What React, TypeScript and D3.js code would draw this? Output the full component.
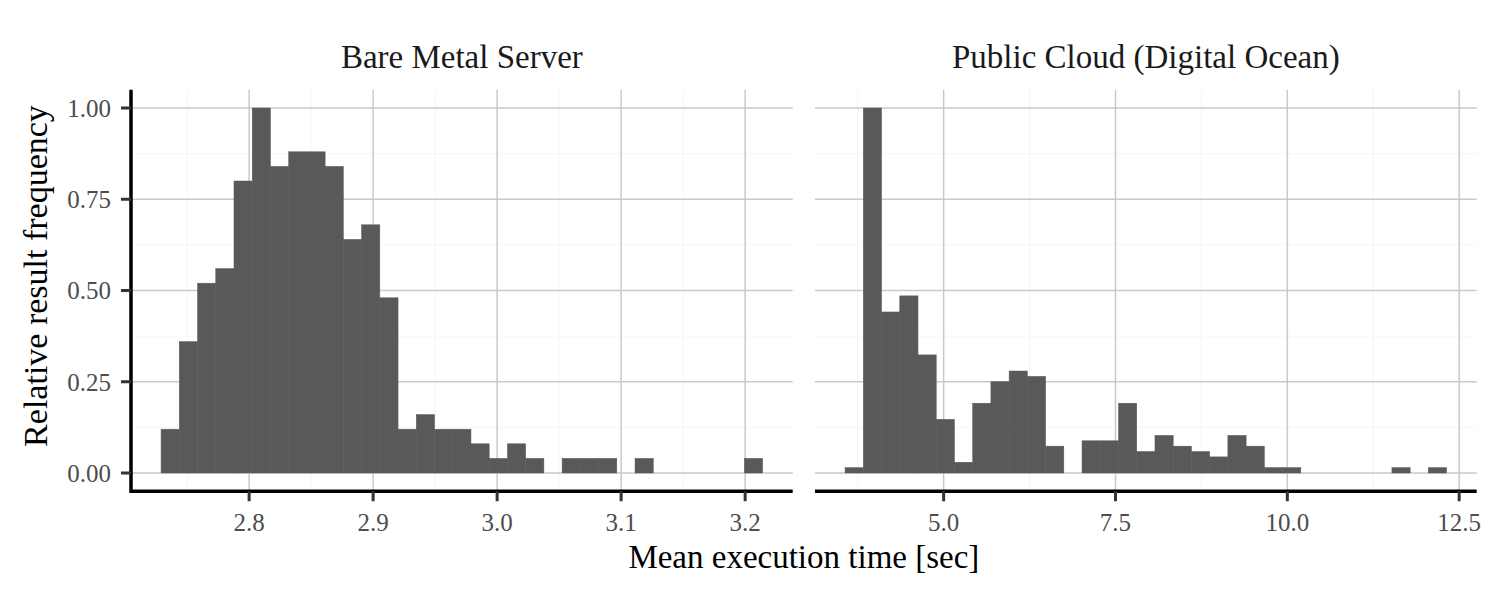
import React from "react";
import * as d3 from "d3";

// ---- Data (histogram bin counts) ----
const panelTitles = ["Bare Metal Server", "Public Cloud (Digital Ocean)"];

const bareMetalBinStart = 2.729;
const bareMetalBinWidth = 0.0147;
const bareMetalCounts = [3, 9, 13, 14, 20, 25, 21, 22, 22, 21, 16, 17, 12, 3, 4, 3, 3, 2, 1, 2, 1, 0, 1, 1, 1, 0, 1, 0, 0, 0, 0, 0, 1];

const cloudBinStart = 3.566;
const cloudBinWidth = 0.2652;
const cloudCounts = [1, 68, 30, 33, 22, 10, 2, 13, 17, 19, 18, 5, 0, 6, 6, 13, 4, 7, 5, 4, 3, 7, 5, 1, 1, 0, 0, 0, 0, 0, 1, 0, 1];

const bareMetalTicks = [2.8, 2.9, 3.0, 3.1, 3.2];
const bareMetalMinor = [2.75, 2.85, 2.95, 3.05, 3.15];
const cloudTicks = [5.0, 7.5, 10.0, 12.5];
const cloudMinor = [3.75, 6.25, 8.75, 11.25];
const yTicks = [0, 0.25, 0.5, 0.75, 1.0];
const yMinor = [0.125, 0.375, 0.625, 0.875];

const xTitle = "Mean execution time [sec]";
const yTitle = "Relative result frequency";

// ---- Layout ----
const W = 1500;
const H = 600;
const panelTop = 89.75;
const panelBottom = 491.25;
const panels = [
  { x0: 131, x1: 792.7 },
  { x0: 815, x1: 1476.7 },
];
const FONT = "'Liberation Serif', 'Times New Roman', serif";

type Bin = { x0: number; x1: number; v: number };

function makeBins(start: number, width: number, counts: number[]): Bin[] {
  const max = d3.max(counts) || 1;
  return counts.map((c, i) => ({ x0: start + i * width, x1: start + (i + 1) * width, v: c / max }));
}

const panelData = [
  { bins: makeBins(bareMetalBinStart, bareMetalBinWidth, bareMetalCounts), ticks: bareMetalTicks, minor: bareMetalMinor, fmt: d3.format(".1f") },
  { bins: makeBins(cloudBinStart, cloudBinWidth, cloudCounts), ticks: cloudTicks, minor: cloudMinor, fmt: d3.format(".1f") },
];

export default function App() {
  const y = d3.scaleLinear().domain([-0.05, 1.05]).range([panelBottom, panelTop]);
  const yFmt = d3.format(".2f");

  return (
    <svg width={W} height={H} style={{ display: "block", position: "absolute", left: 0, top: 0 }} fontFamily={FONT}>
      <rect x={0} y={0} width={W} height={H} fill="#ffffff" />
      {panelData.map((pd, pi) => {
        const p = panels[pi];
        const lo = pd.bins[0].x0;
        const hi = pd.bins[pd.bins.length - 1].x1;
        const pad = (hi - lo) * 0.05;
        const x = d3.scaleLinear().domain([lo - pad, hi + pad]).range([p.x0, p.x1]);
        return (
          <g key={pi}>
            {/* minor grid */}
            {pd.minor.map((t) => (
              <line key={"mx" + t} x1={x(t)} x2={x(t)} y1={panelTop} y2={panelBottom} stroke="#f3f3f3" strokeWidth={0.8} />
            ))}
            {yMinor.map((t) => (
              <line key={"my" + t} x1={p.x0} x2={p.x1} y1={y(t)} y2={y(t)} stroke="#f3f3f3" strokeWidth={0.8} />
            ))}
            {/* major grid */}
            {pd.ticks.map((t) => (
              <line key={"gx" + t} x1={x(t)} x2={x(t)} y1={panelTop} y2={panelBottom} stroke="#c9c9c9" strokeWidth={1.5} />
            ))}
            {yTicks.map((t) => (
              <line key={"gy" + t} x1={p.x0} x2={p.x1} y1={y(t)} y2={y(t)} stroke="#c9c9c9" strokeWidth={1.5} />
            ))}
            {/* bars */}
            {pd.bins.map((b, i) =>
              b.v > 0 ? (
                <rect key={i} x={x(b.x0)} width={x(b.x1) - x(b.x0)} y={y(b.v)} height={y(0) - y(b.v)} fill="#595959" stroke="#595959" strokeWidth={0.5} />
              ) : null
            )}
            {/* x axis */}
            <line x1={p.x0} x2={p.x1} y1={panelBottom} y2={panelBottom} stroke="#000" strokeWidth={3.5} />
            {pd.ticks.map((t) => (
              <g key={"tx" + t}>
                <line x1={x(t)} x2={x(t)} y1={panelBottom} y2={panelBottom + 10} stroke="#333" strokeWidth={3} />
                <text x={x(t)} y={531} textAnchor="middle" fontSize={25} fill="#4d4d4d">
                  {pd.fmt(t)}
                </text>
              </g>
            ))}
            {/* strip title */}
            <text x={(p.x0 + p.x1) / 2} y={68} textAnchor="middle" fontSize={33} fill="#1a1a1a">
              {panelTitles[pi]}
            </text>
          </g>
        );
      })}
      {/* y axis on first panel */}
      <line x1={panels[0].x0} x2={panels[0].x0} y1={panelTop} y2={panelBottom + 1.75} stroke="#000" strokeWidth={3.5} />
      {yTicks.map((t) => (
        <g key={"ty" + t}>
          <line x1={panels[0].x0 - 10} x2={panels[0].x0} y1={y(t)} y2={y(t)} stroke="#333" strokeWidth={3} />
          <text x={111} y={y(t)} dy="0.35em" textAnchor="end" fontSize={25} fill="#4d4d4d">
            {yFmt(t)}
          </text>
        </g>
      ))}
      {/* axis titles */}
      <text x={(panels[0].x0 + panels[1].x1) / 2} y={568} textAnchor="middle" fontSize={33} fill="#000">
        {xTitle}
      </text>
      <text transform={`translate(47, 276) rotate(-90)`} textAnchor="middle" fontSize={34} fill="#000">
        {yTitle}
      </text>
    </svg>
  );
}
